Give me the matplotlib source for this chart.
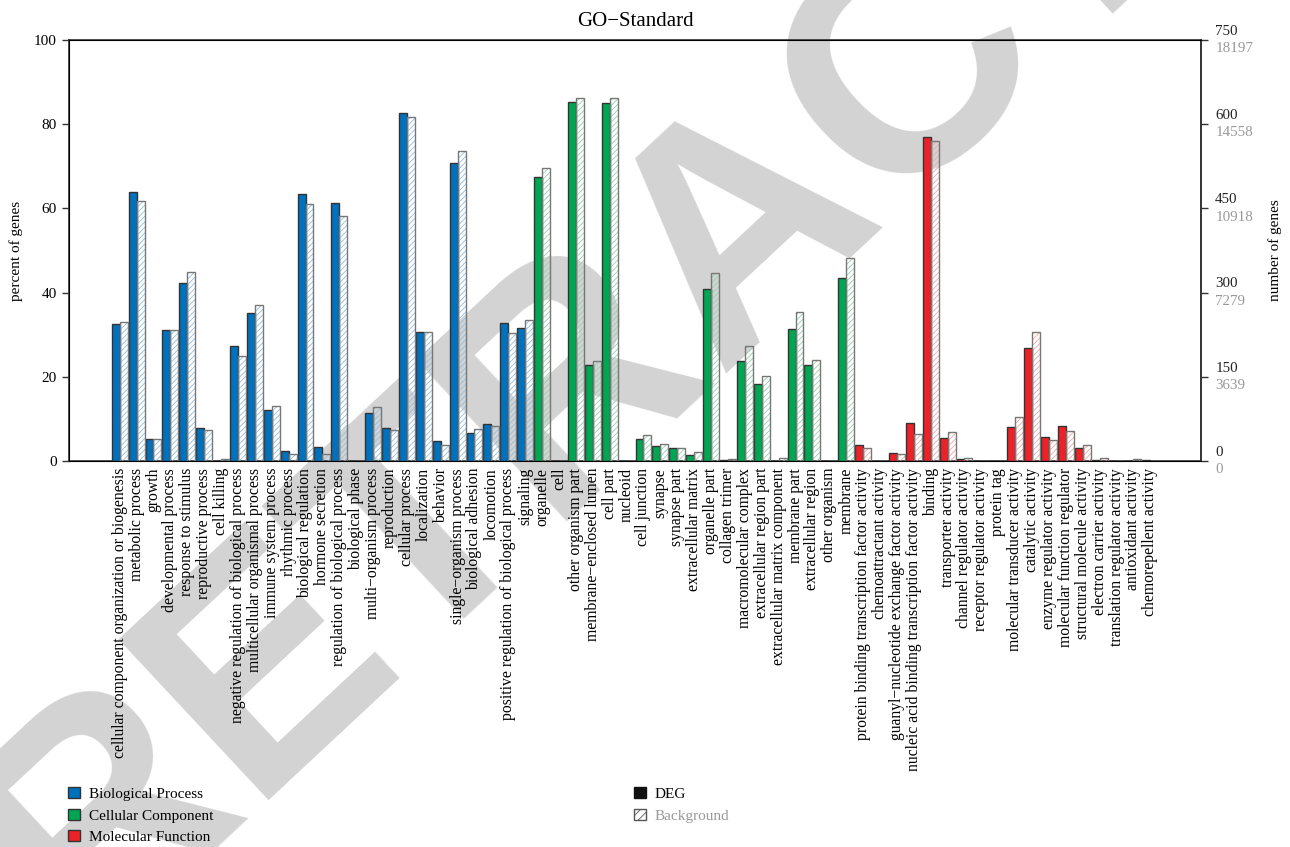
import matplotlib
matplotlib.use('Agg')
import matplotlib.pyplot as plt
from matplotlib.patches import Patch
from matplotlib.transforms import blended_transform_factory
import numpy as np

plt.rcParams['font.family'] = ['Liberation Serif', 'DejaVu Serif']
plt.rcParams['hatch.linewidth'] = 0.6

# GO terms, left to right
bp_terms = ['cellular component organization or biogenesis', 'metabolic process', 'growth',
            'developmental process', 'response to stimulus', 'reproductive process', 'cell killing',
            'negative regulation of biological process', 'multicellular organismal process',
            'immune system process', 'rhythmic process', 'biological regulation', 'hormone secretion',
            'regulation of biological process', 'biological phase', 'multi−organism process',
            'reproduction', 'cellular process', 'localization', 'behavior', 'single−organism process',
            'biological adhesion', 'locomotion', 'positive regulation of biological process', 'signaling']
cc_terms = ['organelle', 'cell', 'other organism part', 'membrane−enclosed lumen', 'cell part',
            'nucleoid', 'cell junction', 'synapse', 'synapse part', 'extracellular matrix',
            'organelle part', 'collagen trimer', 'macromolecular complex', 'extracellular region part',
            'extracellular matrix component', 'membrane part', 'extracellular region', 'other organism',
            'membrane']
mf_terms = ['protein binding transcription factor activity', 'chemoattractant activity',
            'guanyl−nucleotide exchange factor activity',
            'nucleic acid binding transcription factor activity', 'binding', 'transporter activity',
            'channel regulator activity', 'receptor regulator activity', 'protein tag',
            'molecular transducer activity', 'catalytic activity', 'enzyme regulator activity',
            'molecular function regulator', 'structural molecule activity', 'electron carrier activity',
            'translation regulator activity', 'antioxidant activity', 'chemorepellent activity']

# percent of genes
bp_deg = [32.6, 64.0, 5.2, 31.0, 42.2, 7.9, 0.0, 27.4, 35.2, 12.1, 2.3, 63.4, 3.3, 61.4, 0.1,
          11.5, 7.9, 82.6, 30.7, 4.8, 70.7, 6.7, 8.7, 32.7, 31.6]
bp_bg = [32.9, 61.8, 5.2, 31.1, 45.0, 7.3, 0.5, 24.9, 37.1, 13.1, 1.7, 61.0, 1.6, 58.2, 0.0,
         12.8, 7.3, 81.8, 30.7, 3.8, 73.7, 7.7, 8.4, 30.3, 33.5]
cc_deg = [67.5, 0.1, 85.2, 22.7, 85.0, 0.1, 5.2, 3.6, 3.0, 1.4, 40.8, 0.2, 23.8, 18.3, 0.1,
          31.3, 22.8, 0.1, 43.4]
cc_bg = [69.5, 0.0, 86.3, 23.8, 86.2, 0.1, 6.2, 4.0, 3.2, 2.2, 44.6, 0.5, 27.2, 20.3, 0.6,
         35.5, 24.1, 0.0, 48.2]
mf_deg = [3.8, 0.0, 2.0, 9.0, 76.9, 5.5, 0.5, 0.1, 0.0, 8.0, 26.8, 5.6, 8.3, 3.2, 0.3, 0.1, 0.1, 0.2]
mf_bg = [3.2, 0.0, 1.6, 6.4, 76.1, 6.8, 0.6, 0.1, 0.0, 10.4, 30.6, 5.1, 7.2, 3.8, 0.6, 0.1, 0.4, 0.1]

deg_ticks = [0, 150, 300, 450, 600, 750]
bg_ticks = [0, 3639, 7279, 10918, 14558, 18197]

groups = [
    ('Biological Process', bp_terms, bp_deg, bp_bg, '#0071bd', '#8cc0e6'),
    ('Cellular Component', cc_terms, cc_deg, cc_bg, '#00a651', '#8fd3ad'),
    ('Molecular Function', mf_terms, mf_deg, mf_bg, '#ed2228', '#f5a3a5'),
]

fig = plt.figure(figsize=(12.9, 8.47), dpi=100)
ax = fig.add_axes([69 / 1290, 1 - 461 / 847, (1201 - 69) / 1290, (461 - 40) / 847])
ax.set_facecolor('none')

# watermark behind everything
fig.text(800 / 1290, 1 - 285 / 847, 'RETRACTED', fontsize=230, rotation=43, color='#d3d3d3',
         ha='center', va='baseline', rotation_mode='anchor', family='Liberation Sans',
         weight='bold', zorder=-1)

w = 0.47
labels = []
start = 0
for name, terms, deg, bg, col, light in groups:
    x = np.arange(start, start + len(terms))
    ax.bar(x - w / 2, deg, width=w, color=col, edgecolor='#333333', linewidth=1.0, zorder=3)
    ax.bar(x + w / 2, bg, width=w, facecolor='none', edgecolor=light, hatch='//////',
           linewidth=0, zorder=3)
    ax.bar(x + w / 2, bg, width=w, facecolor='none', edgecolor='#777777', linewidth=1.0, zorder=4)
    labels += terms
    start += len(terms)

ax.set_xlim(-3.0, 64.0)
ax.set_ylim(0, 100)
ax.set_xticks(np.arange(len(labels)))
ax.set_xticklabels(labels, rotation=90, fontsize=11.3)
ax.tick_params(axis='x', length=0, pad=5)
ax.set_yticks([0, 20, 40, 60, 80, 100])
ax.tick_params(axis='y', labelsize=11, length=5, width=1, color='#333333', pad=4)
for s in ax.spines.values():
    s.set_color('#333333')
    s.set_linewidth(1.2)

ax.set_ylabel('percent of genes', fontsize=11)
ax.yaxis.set_label_coords((23 - 69) / 1132, 0.5)
ax.set_title('GO−Standard', fontsize=15, pad=10)

# right axis: DEG counts (black) over background counts (grey)
ax2 = ax.twinx()
ax2.set_ylim(0, 750)
ax2.set_yticks(deg_ticks)
ax2.set_yticklabels([''] * len(deg_ticks))
ax2.tick_params(axis='y', length=5, width=1, color='#333333')
ax2.spines['right'].set_color('#333333')
ax2.spines['right'].set_linewidth(1.2)
tr = blended_transform_factory(ax2.transAxes, ax2.transData)
for d, b in zip(deg_ticks, bg_ticks):
    ax2.text(1.0125, d + 4, str(d), transform=tr, ha='left', va='bottom', fontsize=10.8,
             color='#222222')
    ax2.text(1.0125, d - 4, str(b), transform=tr, ha='left', va='top', fontsize=10.8,
             color='#999999')
ax2.set_ylabel('number of genes', fontsize=11)
ax2.yaxis.set_label_coords((1268 - 69) / 1132, 0.5)

# legends
h1 = [Patch(facecolor=g[4], edgecolor='#333333', label=g[0]) for g in groups]
leg1 = fig.legend(handles=h1, loc='upper left', bbox_to_anchor=(62 / 1290, 1 - 781 / 847),
                  frameon=False, fontsize=11, handlelength=0.75, handleheight=0.75,
                  handletextpad=0.6, labelspacing=0.5, borderaxespad=0)
h2 = [Patch(facecolor='#111111', edgecolor='#111111', label='DEG'),
      Patch(facecolor='white', edgecolor='#555555', hatch='////', label='Background')]
leg2 = fig.legend(handles=h2, loc='upper left', bbox_to_anchor=(628 / 1290, 1 - 781 / 847),
                  frameon=False, fontsize=11, handlelength=0.75, handleheight=0.75,
                  handletextpad=0.6, labelspacing=0.5, borderaxespad=0)
leg2.get_texts()[1].set_color('#999999')

fig.savefig('out.png', dpi=100)
